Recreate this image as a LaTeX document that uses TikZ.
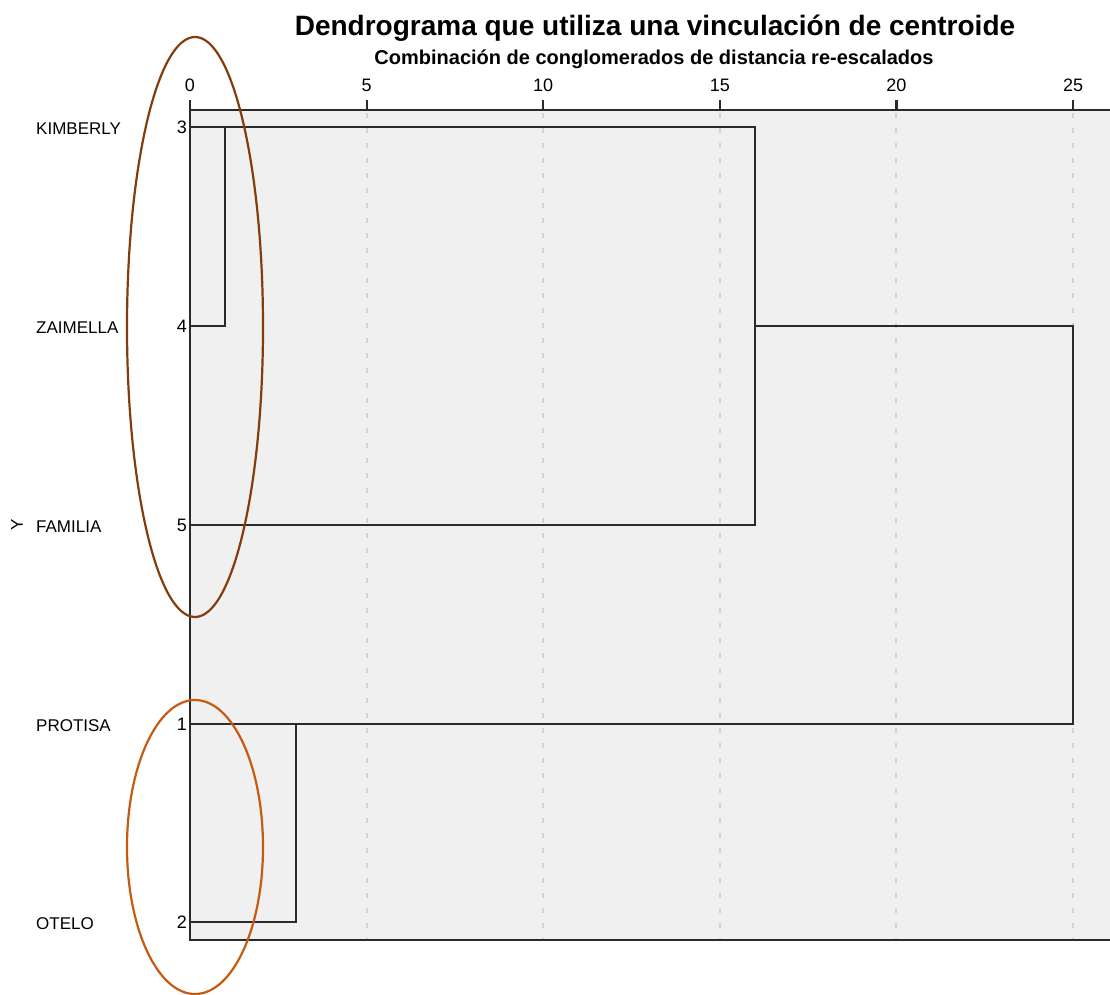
\documentclass[tikz,border=0pt]{standalone}
\usepackage{fontspec}
\setmainfont{Liberation Sans}
\usetikzlibrary{positioning}
\definecolor{panel}{HTML}{F0F0F0}
\definecolor{gridgray}{HTML}{D2D2D2}
\definecolor{framegray}{HTML}{2A2A2A}
\definecolor{ringbrown}{HTML}{843C0C}
\definecolor{ringorange}{HTML}{C55A11}
\tikzset{
  caso/.style={anchor=west, inner sep=0pt, font=\fontsize{17}{17}\selectfont},
  hoja/.style={anchor=east, inner sep=3pt, font=\fontsize{18}{18}\selectfont},
  escala/.style={above=7pt, inner sep=1pt, font=\fontsize{18}{18}\selectfont},
  rama/.style={draw=framegray, line width=2pt},
  marco/.style={draw=framegray, line width=2.2pt},
  anillo/.style={line width=2.2pt},
}
\begin{document}
\begin{tikzpicture}[x=1pt,y=-1pt]
      \useasboundingbox (0,0) rectangle (1110,994);
      \fill[panel] (190,110) rectangle (1110,940);
      % vertical grid
      \foreach \x in {5,10,15,20,25}
      \draw[gridgray, line width=2pt, dash pattern=on 5pt off 10pt] (190+35.32*\x,113) -- (190+35.32*\x,940);
      \draw[marco] (1110,110) -- (190,110) -- (190,940) -- (1110,940);
      % top axis
      \foreach \x in {0,5,10,15,20,25} {
      \draw[marco] (190+35.32*\x,100) -- (190+35.32*\x,110);
      \node[escala] at (190+35.32*\x,100) {\x};
      }
      \node (titulo) at (655,28) {\fontsize{28}{28}\selectfont\bfseries Dendrograma que utiliza una vinculación de centroide};
      \node (subtitulo) at (654,59) {\fontsize{20}{20}\selectfont\bfseries Combinación de conglomerados de distancia re-escalados};
      \node[rotate=90, font=\fontsize{17}{17}\selectfont] (eje) at (17,525) {Y};
      % leaves
      \node[hoja] (n3) at (190,127) {3};
      \node[hoja] (n4) at (190,326) {4};
      \node[hoja] (n5) at (190,525) {5};
      \node[hoja] (n1) at (190,724) {1};
      \node[hoja] (n2) at (190,922) {2};
      \node[caso] (c3) at (36,129) {KIMBERLY};
      \node[caso] (c4) at (36,328) {ZAIMELLA};
      \node[caso] (c5) at (36,527) {FAMILIA};
      \node[caso] (c1) at (36,726) {PROTISA};
      \node[caso] (c2) at (36,924) {OTELO};
      % merge points
      \coordinate (u34) at (225,127);
      \coordinate (u345) at (755,127);
      \coordinate (u12) at (296,724);
      \coordinate (utodo) at (1073,326);
      \draw[rama] (n3.east) -- (u345) |- (n5.east);
      \draw[rama] (u34) |- (n4.east);
      \draw[rama] (u345 |- n4.east) -- (utodo) |- (n1.east);
      \draw[rama] (u12) |- (n2.east);
      % circled groups
      \draw[anillo, ringbrown] (195,327) ellipse [x radius=68pt, y radius=290pt];
      \draw[anillo, ringorange] (195,847) ellipse [x radius=68pt, y radius=147pt];
\end{tikzpicture}
\end{document}
